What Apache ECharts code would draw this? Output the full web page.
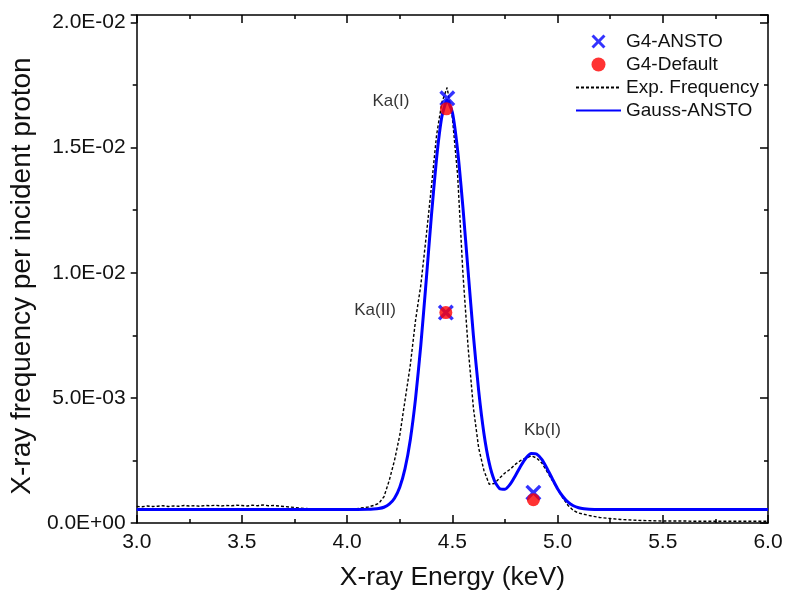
<!DOCTYPE html>
<html><head><meta charset="utf-8">
<script src="https://cdn.jsdelivr.net/npm/echarts@6/dist/echarts.min.js"></script>
<style>html,body{margin:0;padding:0;background:#fff}#c{width:786px;height:600px}</style>
</head><body><div id="c"></div>
<script>
// Experimental frequency (dotted black)
const expEnergy = [3.0,3.025,3.05,3.075,3.1,3.125,3.15,3.175,3.2,3.225,3.25,3.275,3.3,3.325,3.35,3.375,3.4,3.425,3.45,3.475,3.5,3.525,3.55,3.575,3.6,3.625,3.65,3.675,3.7,3.725,3.75,3.8,3.85,3.9,3.95,4.0,4.05,4.1,4.125,4.15,4.175,4.2,4.225,4.25,4.275,4.3,4.325,4.35,4.375,4.4,4.425,4.45,4.475,4.5,4.525,4.55,4.575,4.6,4.625,4.65,4.675,4.7,4.725,4.75,4.775,4.8,4.825,4.85,4.875,4.9,4.925,4.95,4.975,5.0,5.025,5.05,5.075,5.1,5.15,5.2,5.25,5.3,5.35,5.4,5.45,5.5,5.55,5.6,5.65,5.7,5.75,5.8,5.85,5.9,5.95,6.0];
const expFreq = [0.00066,0.00065,0.00068,0.00066,0.00067,0.00069,0.00066,0.00068,0.00067,0.00070,0.00068,0.00069,0.00067,0.00070,0.00069,0.00071,0.00068,0.00070,0.00069,0.00071,0.00070,0.00068,0.00071,0.00069,0.00072,0.00069,0.00070,0.00068,0.00066,0.00064,0.00062,0.00058,0.00056,0.00055,0.00056,0.00055,0.00058,0.00064,0.00070,0.00078,0.00105,0.00170,0.00250,0.00350,0.00490,0.00630,0.00810,0.00950,0.01140,0.01340,0.01550,0.01680,0.01740,0.01620,0.01390,0.01000,0.00700,0.00460,0.00300,0.00210,0.00155,0.00158,0.00180,0.00200,0.00215,0.00235,0.00250,0.00260,0.00268,0.00260,0.00240,0.00205,0.00170,0.00135,0.00100,0.00070,0.00050,0.00040,0.00030,0.00022,0.00018,0.00014,0.00012,0.00010,0.00009,0.00008,0.00008,0.00008,0.00007,0.00007,0.00007,0.00007,0.00007,0.00007,0.00007,0.00007];
// Gauss-ANSTO fit (solid blue)
const gaussEnergy = [3.0,3.5,4.0,4.1,4.125,4.15,4.175,4.2,4.225,4.25,4.275,4.3,4.325,4.35,4.375,4.4,4.425,4.45,4.475,4.5,4.525,4.55,4.575,4.6,4.625,4.65,4.675,4.7,4.725,4.75,4.775,4.8,4.825,4.85,4.875,4.9,4.925,4.95,4.975,5.0,5.025,5.05,5.075,5.1,5.125,5.15,5.2,5.5,6.0];
const gaussFreq = [0.00054,0.00054,0.00054,0.00055,0.00056,0.00058,0.00063,0.00075,0.00099,0.00143,0.00217,0.00332,0.00497,0.00710,0.00962,0.01223,0.01457,0.01623,0.01689,0.01641,0.01489,0.01263,0.01004,0.00749,0.00529,0.00358,0.00240,0.00169,0.00137,0.00135,0.00155,0.00190,0.00228,0.00260,0.00278,0.00276,0.00254,0.00218,0.00177,0.00137,0.00106,0.00083,0.00069,0.00061,0.00057,0.00055,0.00054,0.00054,0.00054];
// Simulated peaks
const peakLabels = ['Ka(I)','Ka(II)','Kb(I)'];
const ansEnergy = [4.476,4.469,4.885];
const ansFreq = [0.01697,0.00841,0.00121];
const defEnergy = [4.472,4.469,4.885];
const defFreq = [0.01655,0.00841,0.00093];

const FONT = "'Liberation Sans', Arial, sans-serif";
const TXT = '#111';
const AX = {color:'#000', width:1.5};

function sci(v){
  let s = v.toExponential(1).toUpperCase();
  let [m,e] = s.split('E');
  const sign = e[0]==='-' ? '-' : '+';
  e = e.replace('+','').replace('-','').padStart(2,'0');
  return m + 'E' + sign + e;
}
const zip = (a,b)=>a.map((x,i)=>[x,b[i]]);

const labelCfg = [
  {show:true, position:'left', distance:30, offset:[0,3], fontSize:17},
  {show:true, position:'left', distance:42, offset:[0,-2], fontSize:17},
  {show:true, position:'top', distance:46, offset:[9,0], fontSize:17}
];
const ansData = ansEnergy.map((x,i)=>({value:[x,ansFreq[i]], label:Object.assign({formatter:peakLabels[i], color:'#000', fontFamily:FONT}, labelCfg[i])}));

const xPath = 'path://M0,3L3,0L10,7L17,0L20,3L13,10L20,17L17,20L10,13L3,20L0,17L7,10Z';

const chart = echarts.init(document.getElementById('c'), null, {renderer:'canvas'});
chart.setOption({
  animation:false,
  backgroundColor:'#fff',
  textStyle:{fontFamily:FONT},
  grid:{left:134, right:18, top:15, bottom:77},
  legend:{orient:'vertical', left:575, top:32, itemWidth:45, itemHeight:14, itemGap:4, padding:0,
    textStyle:{fontSize:19, color:TXT, fontFamily:FONT},
    data:[
      {name:'G4-ANSTO'},
      {name:'G4-Default'},
      {name:'Exp. Frequency', itemStyle:{opacity:0}},
      {name:'Gauss-ANSTO', itemStyle:{opacity:0}}
    ]},
  xAxis:[
    {type:'value', min:3, max:6, interval:0.5, position:'bottom',
     axisLine:{show:true, onZero:false, lineStyle:AX},
     axisTick:{show:true, inside:true, length:8, lineStyle:AX},
     minorTick:{show:true, splitNumber:2, length:4, lineStyle:AX},
     axisLabel:{fontSize:21, color:TXT, margin:9, formatter:v=>v.toFixed(1)},
     splitLine:{show:false},
     name:'X-ray Energy (keV)', nameLocation:'middle', nameGap:41,
     nameTextStyle:{fontSize:26.5, color:TXT}},
    {type:'value', min:3, max:6, interval:0.5, position:'top',
     axisLine:{show:true, onZero:false, lineStyle:AX},
     axisTick:{show:true, inside:true, length:8, lineStyle:AX},
     minorTick:{show:true, splitNumber:2, length:4, lineStyle:AX},
     axisLabel:{show:false}, splitLine:{show:false}}
  ],
  yAxis:[
    {type:'value', min:0, max:0.0203, interval:0.005, position:'left',
     axisLine:{show:true, onZero:false, lineStyle:AX},
     axisTick:{show:true, inside:false, length:6, lineStyle:AX},
     minorTick:{show:true, splitNumber:2, length:4, lineStyle:AX},
     axisLabel:{fontSize:21, color:TXT, margin:11, showMaxLabel:false, formatter:sci},
     splitLine:{show:false},
     name:'X-ray frequency per incident proton', nameLocation:'middle', nameGap:98,
     nameTextStyle:{fontSize:28, color:TXT, padding:[0,14,0,0]}},
    {type:'value', min:0, max:0.0203, interval:0.005, position:'right',
     axisLine:{show:true, onZero:false, lineStyle:AX},
     axisTick:{show:true, inside:true, length:8, lineStyle:AX},
     minorTick:{show:true, splitNumber:2, length:4, lineStyle:AX},
     axisLabel:{show:false}, splitLine:{show:false}}
  ],
  series:[
    {name:'Exp. Frequency', type:'line', data:zip(expEnergy,expFreq), symbol:'none', showSymbol:false, z:2,
     lineStyle:{color:'#000', width:1.4, type:[3,2]}, itemStyle:{color:'#000'}},
    {name:'Gauss-ANSTO', type:'line', data:zip(gaussEnergy,gaussFreq), symbol:'none', showSymbol:false, smooth:0.2, z:3,
     lineStyle:{color:'#0000ff', width:3}, itemStyle:{color:'#0000ff'}},
    {name:'G4-ANSTO', type:'scatter', data:ansData, symbol:xPath, symbolSize:16, z:4,
     itemStyle:{color:'#0000ff'}},
    {name:'G4-Default', type:'scatter', data:zip(defEnergy,defFreq), symbol:'circle', symbolSize:13, z:5,
     itemStyle:{color:'#ff0000'}}
  ]
});
</script></body></html>
